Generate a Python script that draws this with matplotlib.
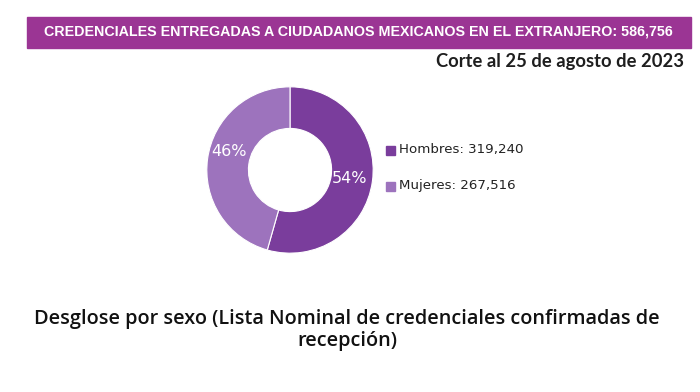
import matplotlib.pyplot as plt
from matplotlib.patches import Rectangle

# data
labels = ["Hombres", "Mujeres"]
values = [319240, 267516]
colors = ["#7a3d9c", "#9d73bd"]
total = 586756
title = "CREDENCIALES ENTREGADAS A CIUDADANOS MEXICANOS EN EL EXTRANJERO: 586,756"
subtitle = "Corte al 25 de agosto de 2023"
caption = "Desglose por sexo (Lista Nominal de credenciales confirmadas de\nrecepción)"

fig = plt.figure(figsize=(7, 3.92), dpi=100)
fig.patch.set_facecolor("white")

# banner
fig.patches.append(Rectangle((27 / 700, 1 - 48 / 392), 664 / 700, 31 / 392,
                             transform=fig.transFigure, color="#9b3594", zorder=0))
fig.text(358 / 700, 1 - 32 / 392, title, color="white", fontsize=10.3, fontweight="bold",
         family=["Liberation Sans", "DejaVu Sans"], ha="center", va="center")
fig.text(684 / 700, 1 - 62 / 392, subtitle, color="#1e1e1e", fontsize=13.2, fontweight="bold",
         family=["Lato", "DejaVu Sans"], ha="right", va="center")

# donut
ax = fig.add_axes([(290 - 84) / 700, 1 - (170 + 84) / 392, 168 / 700, 168 / 392])
wedges, texts = ax.pie(values, colors=colors, startangle=90, counterclock=False,
                       wedgeprops=dict(width=0.5, edgecolor="white", linewidth=0.8))
ax.set_xlim(-1.01, 1.01)
ax.set_ylim(-1.01, 1.01)
ax.set_aspect("equal")
pcts = [round(v / total * 100) for v in values]
ax.text(0.72, -0.1, f"{pcts[0]}%", color="white", fontsize=11.5, ha="center", va="center")
ax.text(-0.73, 0.22, f"{pcts[1]}%", color="white", fontsize=11.5, ha="center", va="center")

# legend
for i, (lab, v, c) in enumerate(zip(labels, values, colors)):
    y = 1 - (150 + i * 36) / 392
    fig.patches.append(Rectangle((386 / 700, y - 4.5 / 392), 9 / 700, 9 / 392,
                                 transform=fig.transFigure, color=c))
    fig.text(399 / 700, y, f"{lab}: {v:,}", fontsize=9.6, color="#222222", va="center")

fig.text(347 / 700, 1 - 330 / 392, caption, fontsize=14.3, fontweight="semibold",
         family=["Open Sans", "DejaVu Sans"], ha="center", va="center", linespacing=1.15,
         color="#111111")

fig.savefig("out.png", dpi=100)
